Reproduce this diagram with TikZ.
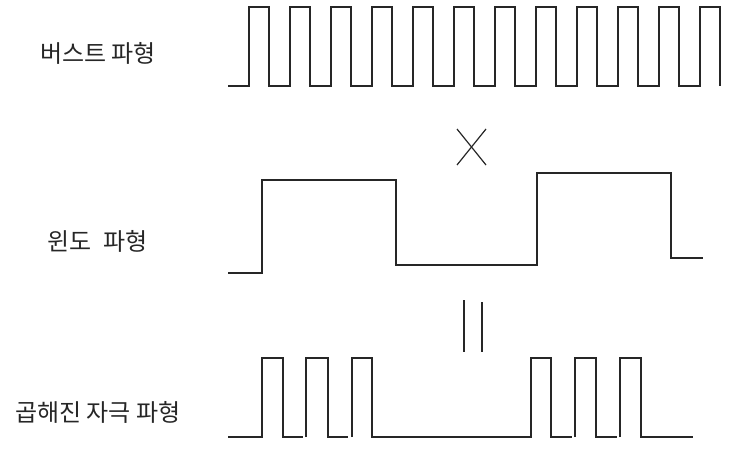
\documentclass[tikz,border=0pt]{standalone}
\usepackage{fontspec}
\newfontfamily\kr{Noto Sans CJK KR}
\begin{document}
\begin{tikzpicture}[x=1pt,y=-1pt,
  wave/.style={draw=black!85,line width=1.1pt,line join=miter},
  sym/.style={draw=black!85,line width=1.2pt},
  lbl/.style={anchor=west,inner sep=0pt,font=\kr\fontsize{24}{28}\selectfont,text=black!85}]
\useasboundingbox (0,0) rectangle (732,450);
% labels
\node[lbl] (burstlbl) at (40,53) {버스트 파형};
\node[lbl] (windowlbl) at (47,241) {윈도\hspace{0.5em}파형};
\node[lbl] (multlbl) at (15,412) {곱해진 자극 파형};
% burst waveform
\draw[wave] (228,86) foreach \i in {0,...,11} {
  -- ({249+41*\i},86) -- ({249+41*\i},7) -- ({269+41*\i},7) -- ({269+41*\i},86) };
% multiplication sign
\draw[sym] (457,129) -- (486,165);
\draw[sym] (486,129) -- (457,165);
% window waveform
\draw[wave] (228,273) -- (262,273) -- (262,180) -- (396,180) -- (396,265)
  -- (537,265) -- (537,173) -- (671,173) -- (671,258) -- (703,258);
% equals sign (vertical)
\draw[sym] (464,300) -- (464,352);
\draw[sym] (482,302) -- (482,352);
% multiplied waveform
\draw[wave] (228,437) -- (262,437) -- (262,358) -- (283,358) -- (283,437) -- (303,437);
\draw[wave] (306,437) -- (306,358) -- (328,358) -- (328,437) -- (348,437);
\draw[wave] (352,437) -- (352,358) -- (372,358) -- (372,437) -- (531,437)
  -- (531,358) -- (551,358) -- (551,437) -- (572,437);
\draw[wave] (575,437) -- (575,358) -- (596,358) -- (596,437) -- (617,437);
\draw[wave] (620,437) -- (620,358) -- (641,358) -- (641,437) -- (693,437);
\end{tikzpicture}
\end{document}
